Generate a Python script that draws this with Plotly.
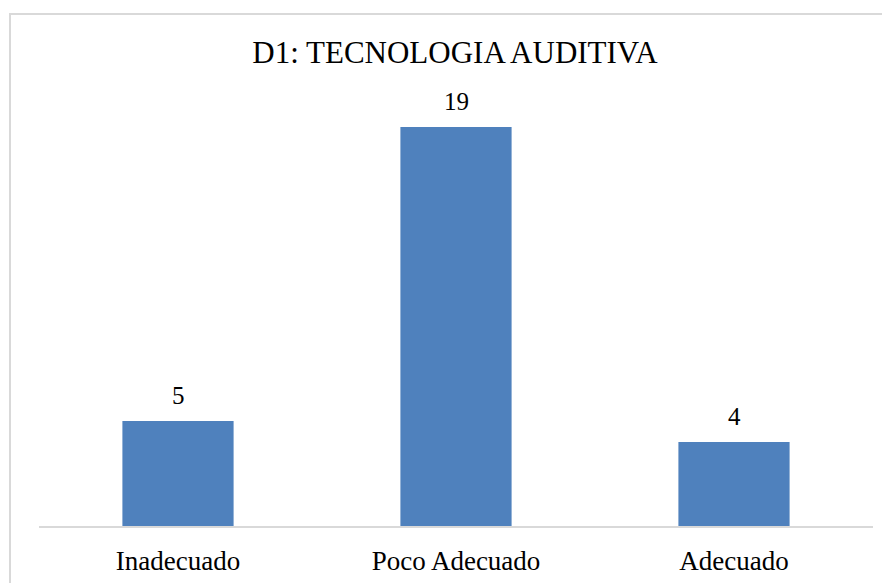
import plotly.graph_objects as go

categories = ["Inadecuado", "Poco Adecuado", "Adecuado"]
values = [5, 19, 4]
title_text = "D1: TECNOLOGIA AUDITIVA"

bar_color = "#4F81BD"
font_family = "Liberation Serif"

fig = go.Figure()
fig.add_trace(go.Bar(
    x=categories,
    y=values,
    marker=dict(color=bar_color, line=dict(width=0)),
    hoverinfo="skip",
))

for c, v in zip(categories, values):
    fig.add_annotation(
        x=c, y=v, text=str(v), showarrow=False,
        yanchor="bottom", yshift=10,
        font=dict(family=font_family, size=25, color="#000000"),
    )

# page has an 8px body offset
OFF = 8
W, H = 890, 583
ml, mr, mt, mb = 39 - OFF, 17 + OFF, 106 - OFF, 57 + OFF
pw, ph = W - ml - mr, H - mt - mb

def px_to_paper_x(px):
    return (px - OFF - ml) / pw

def px_to_paper_y(py):
    return (H - mb - (py - OFF)) / ph

# outer chart border (top & left visible, rest cropped)
fig.add_shape(
    type="rect", xref="paper", yref="paper", layer="below",
    x0=px_to_paper_x(10), x1=px_to_paper_x(920),
    y0=px_to_paper_y(620), y1=px_to_paper_y(14),
    line=dict(color="#d9d9d9", width=2), fillcolor="rgba(0,0,0,0)",
)

fig.update_layout(
    width=W, height=H,
    margin=dict(l=ml, r=mr, t=mt, b=mb, pad=0),
    paper_bgcolor="white", plot_bgcolor="white",
    bargap=0.6,
    showlegend=False,
    title=dict(
        text=title_text, x=px_to_paper_x(455), xref="paper", xanchor="center",
        y=1 - (52 - OFF) / H, yanchor="middle",
        font=dict(family=font_family, size=31, color="#000000"),
    ),
    xaxis=dict(
        showline=True, linecolor="#d9d9d9", linewidth=2,
        showgrid=False, ticks="", ticklabelstandoff=10,
        tickfont=dict(family=font_family, size=27, color="#000000"),
    ),
    yaxis=dict(
        range=[0, 20], visible=False, showgrid=False, zeroline=False,
    ),
)

fig.write_html("out.html")
